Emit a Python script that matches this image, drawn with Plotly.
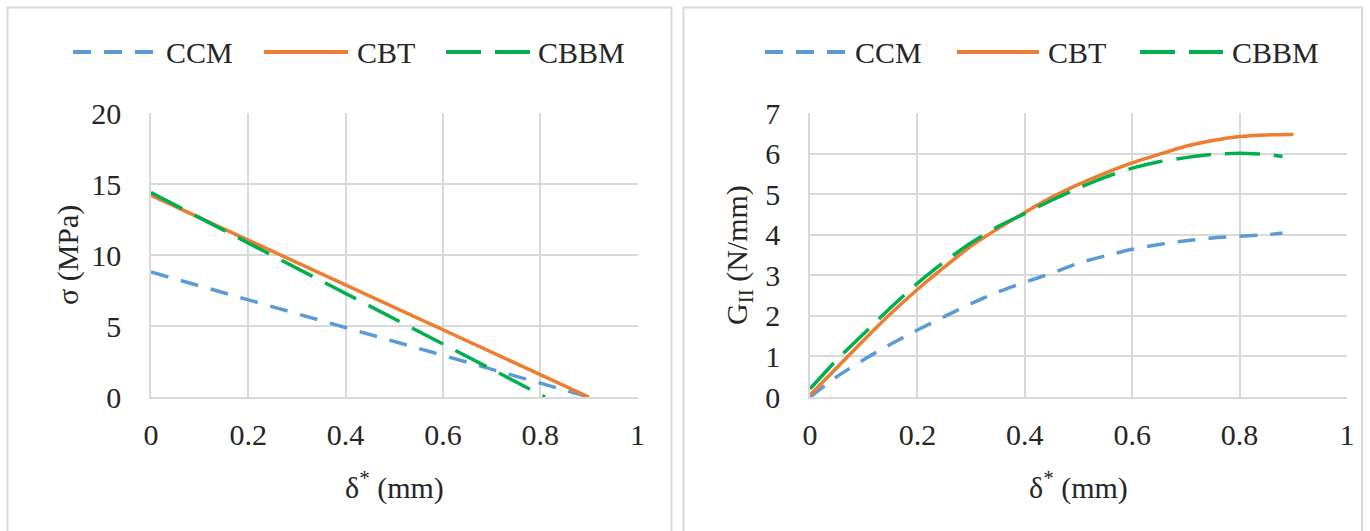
import plotly.graph_objects as go

# ---------------- data ----------------
# Left panel: sigma (MPa) vs delta* (mm)
sig_ccm_x = [0.0, 0.9]
sig_ccm_y = [8.8, 0.0]
sig_cbt_x = [0.0, 0.9]
sig_cbt_y = [14.2, 0.0]
sig_cbbm_x = [0.0, 0.81]
sig_cbbm_y = [14.4, 0.0]

# Right panel: G_II (N/mm) vs delta* (mm)
g_x = [0.0, 0.05, 0.1, 0.15, 0.2, 0.25, 0.3, 0.35, 0.4, 0.45, 0.5,
       0.55, 0.6, 0.65, 0.7, 0.75, 0.8, 0.85, 0.9]
g_cbt = [0.05, 0.72, 1.40, 2.05, 2.65, 3.20, 3.72, 4.15, 4.55, 4.92, 5.24,
         5.52, 5.77, 5.98, 6.18, 6.32, 6.42, 6.46, 6.47]
g_x2 = [0.0, 0.05, 0.1, 0.15, 0.2, 0.25, 0.3, 0.35, 0.4, 0.45, 0.5,
        0.55, 0.6, 0.65, 0.7, 0.75, 0.8, 0.85, 0.88]
g_cbbm = [0.20, 0.92, 1.56, 2.20, 2.80, 3.33, 3.80, 4.20, 4.52, 4.85, 5.15,
          5.42, 5.64, 5.80, 5.90, 5.98, 6.01, 5.98, 5.93]
g_ccm = [0.0, 0.50, 0.92, 1.30, 1.65, 1.98, 2.30, 2.59, 2.83, 3.05, 3.30,
         3.48, 3.64, 3.76, 3.85, 3.92, 3.96, 4.00, 4.04]

series_names = ["CCM", "CBT", "CBBM"]
x_ticks = [0, 0.2, 0.4, 0.6, 0.8, 1]
x_tick_text = ["0", "0.2", "0.4", "0.6", "0.8", "1"]
sig_ticks = [0, 5, 10, 15, 20]
g_ticks = [0, 1, 2, 3, 4, 5, 6, 7]
x_title = "δ<sup>*</sup> (mm)"
y_title_left = "σ (MPa)"
y_title_right = "G<sub>II</sub> (N/mm)"

# ---------------- style ----------------
W, H = 1370, 531
COLORS = {"CCM": "#5B9BD5", "CBT": "#ED7D31", "CBBM": "#00B050"}
DASHES = {"CCM": "18px,13px", "CBT": "solid", "CBBM": "35px,14px"}
GRID = "#d9d9d9"
TXT = "#262626"
FONT = "Liberation Serif, Times New Roman, serif"
FS = 30
LW = 3.5

fig = go.Figure()

def add(x, y, name, xa, ya):
    fig.add_trace(go.Scatter(
        x=x, y=y, mode="lines", name=name,
        line=dict(color=COLORS[name], width=LW, dash=DASHES[name],
                  shape="spline", smoothing=0.6),
        xaxis=xa, yaxis=ya, showlegend=False))

add(sig_ccm_x, sig_ccm_y, "CCM", "x", "y")
add(sig_cbt_x, sig_cbt_y, "CBT", "x", "y")
add(sig_cbbm_x, sig_cbbm_y, "CBBM", "x", "y")
add(g_x2, g_ccm, "CCM", "x2", "y2")
add(g_x, g_cbt, "CBT", "x2", "y2")
add(g_x2, g_cbbm, "CBBM", "x2", "y2")

yb = 1 - 397 / H
yt = 1 - 113 / H

common_x = dict(range=[0, 1], tickvals=x_ticks, ticktext=x_tick_text,
                showgrid=True, gridcolor=GRID, gridwidth=1.5,
                showline=True, linecolor=GRID, linewidth=1.5,
                zeroline=False, ticks="", ticklabelstandoff=10, automargin=False,
                tickfont=dict(family=FONT, size=FS, color=TXT),
                fixedrange=True)
common_y = dict(showgrid=True, gridcolor=GRID, gridwidth=1.5,
                showline=True, linecolor=GRID, linewidth=1.5,
                zeroline=False, ticks="", ticklabelstandoff=22, automargin=False,
                tickfont=dict(family=FONT, size=FS, color=TXT),
                fixedrange=True)

# manual legends (swatch line + label) in pixel positions of the reference
legend_left = [(73, 157, 164), (264, 348, 355), (446, 530, 536)]
legend_right = [(765, 846, 853), (957, 1039, 1046), (1140, 1223, 1230)]
LEG_Y = 52

shapes = [
    dict(type="rect", xref="paper", yref="paper",
         x0=7.5 / W, x1=671.5 / W, y0=-0.05, y1=1 - 7.5 / H,
         line=dict(color=GRID, width=2), fillcolor="rgba(0,0,0,0)", layer="below"),
    dict(type="rect", xref="paper", yref="paper",
         x0=683.5 / W, x1=1362 / W, y0=-0.05, y1=1 - 7.5 / H,
         line=dict(color=GRID, width=2), fillcolor="rgba(0,0,0,0)", layer="below"),
]
annotations = []
for spec in (legend_left, legend_right):
    for name, (a, b, t) in zip(series_names, spec):
        shapes.append(dict(type="line", xref="paper", yref="paper",
                           x0=a / W, x1=b / W, y0=1 - LEG_Y / H, y1=1 - LEG_Y / H,
                           line=dict(color=COLORS[name], width=LW + 0.5, dash=DASHES[name])))
        annotations.append(dict(text=name, xref="paper", yref="paper",
                                x=t / W, y=1 - LEG_Y / H, showarrow=False,
                                xanchor="left", yanchor="middle",
                                font=dict(family=FONT, size=FS, color=TXT)))

annotations += [
    dict(text=x_title, xref="paper", yref="paper",
         x=394 / W, y=1 - 485 / H, showarrow=False, xanchor="center", yanchor="middle",
         font=dict(family=FONT, size=FS, color=TXT)),
    dict(text=x_title, xref="paper", yref="paper",
         x=1078 / W, y=1 - 485 / H, showarrow=False, xanchor="center", yanchor="middle",
         font=dict(family=FONT, size=FS, color=TXT)),
    dict(text=y_title_left, xref="paper", yref="paper", textangle=-90,
         x=68 / W, y=1 - 255 / H, showarrow=False, xanchor="center", yanchor="middle",
         font=dict(family=FONT, size=FS, color=TXT)),
    dict(text=y_title_right, xref="paper", yref="paper", textangle=-90,
         x=739 / W, y=1 - 255 / H, showarrow=False, xanchor="center", yanchor="middle",
         font=dict(family=FONT, size=FS, color=TXT)),
]

fig.update_layout(
    width=W, height=H,
    margin=dict(l=0, r=0, t=0, b=0, autoexpand=False),
    paper_bgcolor="white", plot_bgcolor="white",
    showlegend=False,
    xaxis=dict(domain=[151 / W, 637.5 / W], anchor="y", **common_x),
    yaxis=dict(domain=[yb, yt], anchor="x", range=[0, 20], tickvals=sig_ticks, **common_y),
    xaxis2=dict(domain=[810 / W, 1347 / W], anchor="y2", **common_x),
    yaxis2=dict(domain=[yb, yt], anchor="x2", range=[0, 7], tickvals=g_ticks, **common_y),
    shapes=shapes,
    annotations=annotations,
)

fig.write_html("out.html", config={"displayModeBar": False},
               post_script="document.body.style.margin='0';document.body.style.overflow='hidden';")
